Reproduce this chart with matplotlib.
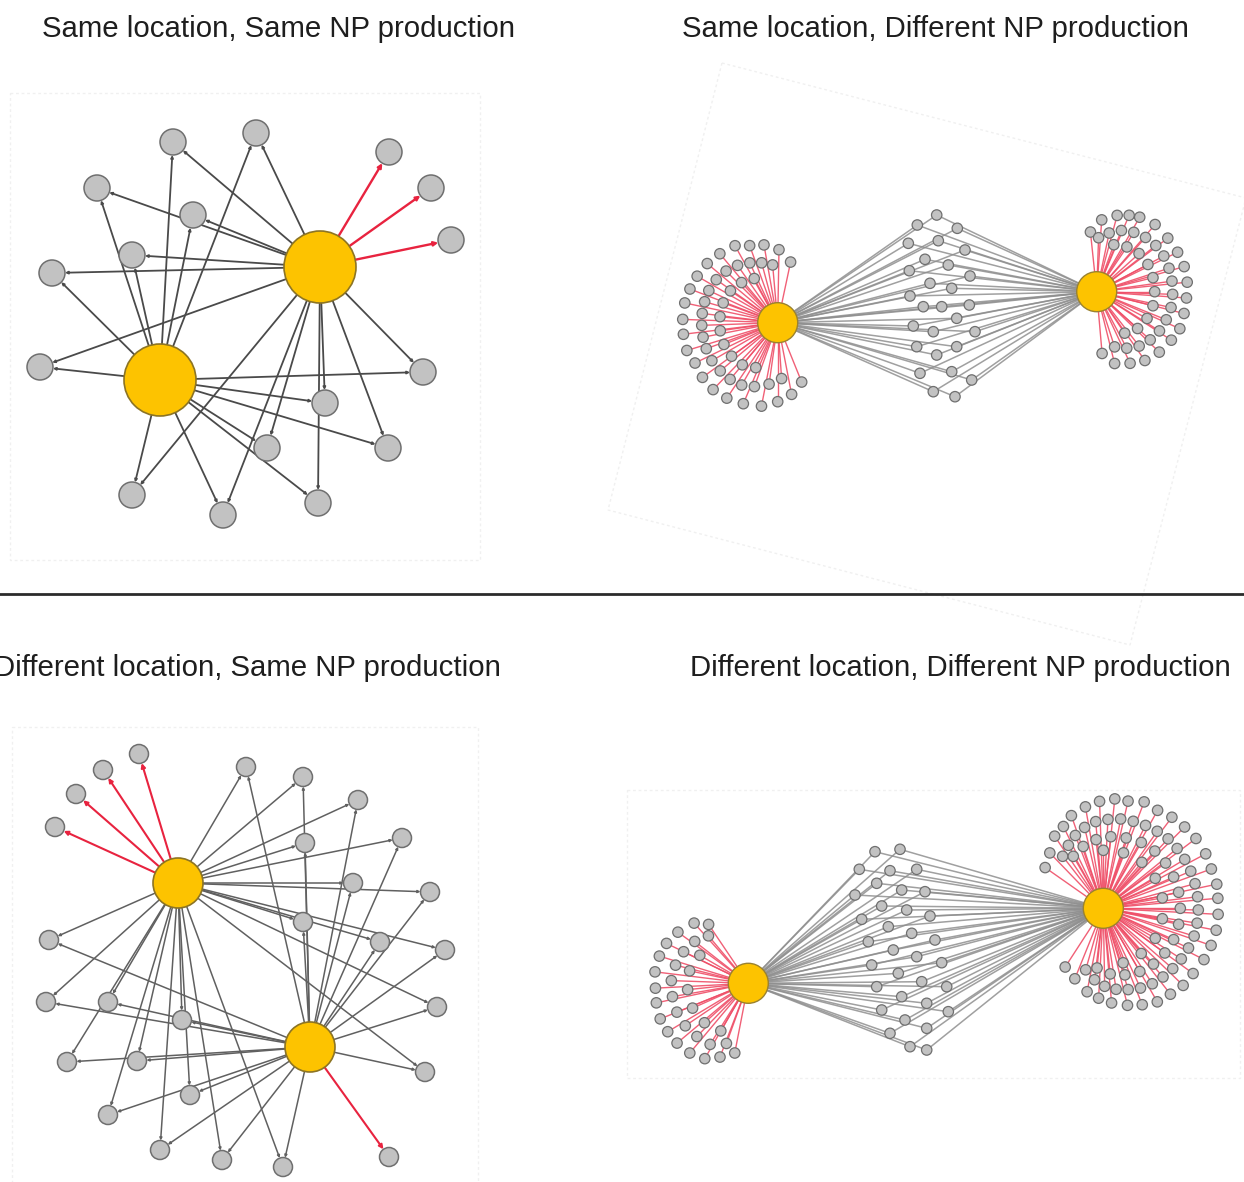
import numpy as np
import matplotlib
matplotlib.use("Agg")
import matplotlib.pyplot as plt
from matplotlib.patches import Circle, Polygon, Rectangle

plt.rcParams['font.family'] = ['Liberation Sans', 'DejaVu Sans']

W, H = 1244, 1182

# ---------------- panel titles ----------------
titles = ["Same location, Same NP production",
          "Same location, Different NP production",
          "Different location, Same NP production",
          "Different location, Different NP production"]
title_x = [279, 935, 247, 960]
title_y = [37, 37, 676, 676]

# ---------------- panel A: same location, same production ----------------
A_hub_x = [320, 160]
A_hub_y = [267, 380]
A_shared_x = [173, 256, 97, 193, 132, 52, 40, 423, 325, 267, 388, 132, 223, 318]
A_shared_y = [142, 133, 188, 215, 255, 273, 367, 372, 403, 448, 448, 495, 515, 503]
A_own_x = [389, 431, 451]          # linked only to the first hub
A_own_y = [152, 188, 240]

# ---------------- panel C: different location, same production ----------------
C_hub_x = [178, 310]
C_hub_y = [883, 1047]
C_own0_x = [139, 103, 76, 55]
C_own0_y = [754, 770, 794, 827]
C_own1_x = [389]
C_own1_y = [1157]
C_shared_x = [246, 303, 358, 402, 305, 353, 430, 303, 380, 445, 49, 46, 108, 182,
              437, 67, 137, 425, 190, 108, 160, 222, 283]
C_shared_y = [767, 777, 800, 838, 843, 883, 892, 922, 942, 950, 940, 1002, 1002, 1020,
              1007, 1062, 1061, 1072, 1095, 1115, 1150, 1160, 1167]

# ---------------- panel B: same location, different production ----------------
B_hub_x = [777.7, 1096.7]
B_hub_y = [322.7, 291.7]
B_shared_x = [936.7, 917.3, 957.3, 908.3, 938.3, 965.0, 925.0, 948.3, 909.3, 970.0,
              930.0, 951.7, 910.0, 923.3, 941.7, 969.3, 913.3, 933.3, 956.7, 975.0,
              916.7, 936.7, 956.7, 920.0, 951.7, 971.7, 933.3, 955.0]
B_shared_y = [215.0, 225.0, 228.3, 243.3, 240.7, 250.0, 259.3, 265.0, 270.7, 276.0,
              283.3, 288.3, 296.0, 306.7, 306.7, 305.0, 326.0, 331.7, 318.3, 331.7,
              346.7, 355.0, 346.7, 373.3, 371.7, 380.0, 391.7, 396.7]
# satellites in polar form around each hub (degrees, pixels)
B_left_ang = [[78, 89, 100, 110, 119, 130, 140, 150, 159, 168, 178, 187, 197, 206, 216,
               226, 236, 247, 259, 270, 281, 292],
              [95, 105, 115, 125, 135, 145, 155, 164, 173, 182, 191, 200, 210, 220, 230,
               240, 250, 262, 274],
              [118, 132, 146, 160, 174, 188, 202, 216, 230, 244]]
B_left_rad = [[62, 73, 79, 82, 88, 90, 92, 93, 94, 95, 95, 95, 95, 92, 93, 93, 91, 88, 85,
               79, 73, 64],
              [58, 62, 66, 70, 73, 75, 76, 76, 76, 76, 76, 76, 76, 75, 74, 72, 68, 62, 56],
              [50, 54, 57, 58, 58, 58, 58, 57, 55, 50]]
B_right_ang = [[96, 86, 75, 67, 60, 49, 37, 26, 16, 6, -4, -14, -24, -33, -44, -55, -65,
                -76, -85],
               [88, 78, 68, 58, 48, 38, 28, 18, 8, -2, -12, -22, -32, -42, -52, -62, -72],
               [70, 56, 42, 28, 14, 0, -14, -28, -42, -56]]
B_right_rad = [[60, 72, 79, 83, 86, 89, 89, 90, 91, 91, 90, 90, 91, 89, 87, 84, 79, 74, 62],
               [54, 60, 66, 70, 73, 75, 76, 76, 76, 76, 76, 75, 74, 72, 69, 64, 58],
               [50, 54, 57, 58, 58, 58, 58, 57, 55, 50]]

# ---------------- panel D: different location, different production ----------------
D_hub_x = [748.3, 1103.3]
D_hub_y = [983.3, 908.3]
D_shared_x = [875.0, 900.0, 859.3, 890.0, 916.7, 876.7, 901.7, 925.0, 855.0, 881.7,
              906.7, 930.0, 861.7, 888.3, 911.7, 935.0, 868.3, 893.3, 916.7, 941.7,
              871.7, 898.3, 921.7, 946.7, 876.7, 901.7, 926.7, 948.3, 881.7, 905.0,
              926.7, 890.0, 910.0, 926.7]
D_shared_y = [851.7, 849.3, 869.3, 870.7, 869.3, 883.3, 890.0, 891.7, 895.0, 906.0,
              910.0, 916.0, 919.3, 926.7, 933.3, 940.0, 941.7, 950.0, 956.7, 962.7,
              965.0, 973.3, 981.7, 986.7, 986.7, 996.7, 1003.3, 1011.7, 1010.0, 1020.0,
              1028.3, 1033.3, 1046.7, 1050.0]
D_left_ang = [[124, 132, 144, 154, 163, 173, 183, 192, 202, 211, 220, 230, 240, 249, 259],
              [130, 142, 154, 166, 178, 190, 202, 214, 226, 238, 250],
              [150, 168, 186, 204, 222, 240]]
D_left_rad = [[71, 81, 87, 91, 93, 94, 93, 94, 95, 94, 93, 91, 87, 79, 71],
              [62, 68, 72, 75, 77, 77, 77, 76, 74, 72, 64],
              [56, 60, 61, 61, 59, 55]]
D_right_ang = [[145, 134, 124, 116, 109, 100, 92, 84, 77, 69, 61, 53, 45, 37, 28, 20, 12, 5,
                -3, -11, -19, -27, -36, -44, -52, -60, -68, -76, -85, -93, -101, -112, -123],
               [128, 119, 111, 103, 95, 87, 79, 71, 63, 55, 47, 39, 31, 23, 15, 7, -1, -9,
                -17, -25, -33, -41, -49, -57, -65, -73, -81, -89, -97, -106],
               [120, 108, 96, 84, 72, 60, 48, 36, 24, 12, 0, -12, -24, -36, -48, -60, -72,
                -84, -96],
               [90, 70, 50, 30, 10, -10, -30, -50, -70]]
D_right_rad = [[71, 77, 87, 91, 98, 103, 107, 110, 110, 114, 112, 114, 115, 116, 116, 115,
                116, 115, 115, 115, 114, 113, 111, 111, 109, 108, 104, 100, 95, 90, 85, 76, 70],
               [66, 72, 78, 83, 87, 89, 91, 92, 93, 94, 95, 95, 95, 95, 95, 95, 95, 95, 95,
                94, 93, 92, 91, 90, 88, 85, 82, 78, 72, 64],
               [60, 65, 69, 72, 74, 76, 77, 77, 77, 77, 77, 77, 77, 76, 75, 73, 70, 66, 60],
               [58, 59, 60, 60, 60, 60, 60, 59, 58]]

# ---------------- styling ----------------
HUB_FACE, HUB_EDGE = '#fdc300', '#8c7424'
NODE_FACE, NODE_EDGE = '#c2c2c2', '#6f6f6f'
RED = '#e8233f'
PINK = '#ef4f68'

fig = plt.figure(figsize=(W / 100, H / 100), dpi=100)
ax = fig.add_axes([0, 0, 1, 1])
ax.set_xlim(0, W)
ax.set_ylim(H, 0)
ax.axis('off')


def circle(x, y, r, face, edge, lw, z):
    ax.add_patch(Circle((x, y), r, facecolor=face, edgecolor=edge, linewidth=lw, zorder=z))


def arrow(x0, y0, x1, y1, r1, color, lw, z, head=7):
    ax.annotate('', xy=(x1, y1), xytext=(x0, y0),
                arrowprops=dict(arrowstyle='-|>', color=color, lw=lw,
                                shrinkA=0, shrinkB=r1 * 0.72,
                                mutation_scale=head),
                zorder=z)


def polar_nodes(hx, hy, angs, rads):
    xs, ys = [], []
    for ring_a, ring_r in zip(angs, rads):
        a = np.radians(np.asarray(ring_a, float))
        r = np.asarray(ring_r, float)
        xs.extend(hx + r * np.cos(a))
        ys.extend(hy - r * np.sin(a))
    return np.array(xs), np.array(ys)


# faint panel frames
frame_kw = dict(fill=False, edgecolor='#f0f0f0', linewidth=1.0, linestyle=(0, (2, 2)), zorder=0)
ax.add_patch(Rectangle((10, 93), 470, 467, **frame_kw))
ax.add_patch(Rectangle((12, 727), 466, 460, **frame_kw))
ax.add_patch(Rectangle((627, 790), 613, 288, **frame_kw))
ax.add_patch(Polygon([(722, 63), (1246, 198), (1130, 645), (608, 510)], closed=True, **frame_kw))

# divider between the two rows
ax.plot([0, W], [594, 594], color='#2b2b2b', lw=2.0, zorder=1)

# titles
for t, x, y in zip(titles, title_x, title_y):
    ax.text(x, y, t, ha='center', va='baseline', fontsize=21.2, color='#1e1e1e', zorder=5)


# sparse panels (A and C)
def sparse_panel(hx, hy, hub_r, sx, sy, own, node_r, edge_c, edge_lw):
    for i in range(len(hx)):
        for x, y in zip(sx, sy):
            arrow(hx[i], hy[i], x, y, node_r, edge_c, edge_lw, 2, 3.5)
    for i, (ox, oy) in own:
        for x, y in zip(ox, oy):
            arrow(hx[i], hy[i], x, y, node_r, RED, edge_lw + 0.4, 2.5, 6)
    for x, y in zip(list(sx) + [v for _, (ox, _) in own for v in ox],
                    list(sy) + [v for _, (_, oy) in own for v in oy]):
        circle(x, y, node_r, NODE_FACE, NODE_EDGE, 1.1, 3)
    for x, y in zip(hx, hy):
        circle(x, y, hub_r, HUB_FACE, HUB_EDGE, 1.2, 4)


sparse_panel(A_hub_x, A_hub_y, 36, A_shared_x, A_shared_y,
             [(0, (A_own_x, A_own_y))], 13, '#4a4a4a', 1.3)
sparse_panel(C_hub_x, C_hub_y, 25, C_shared_x, C_shared_y,
             [(0, (C_own0_x, C_own0_y)), (1, (C_own1_x, C_own1_y))], 9.5, '#606060', 1.1)


# dense panels (B and D)
def dense_panel(hx, hy, sx, sy, left, right):
    for i in range(2):
        for x, y in zip(sx, sy):
            ax.plot([hx[i], x], [hy[i], y], color='#8f8f8f', lw=1.1, alpha=0.85,
                    solid_capstyle='round', zorder=2)
    sat = [polar_nodes(hx[0], hy[0], *left), polar_nodes(hx[1], hy[1], *right)]
    for i, (px, py) in enumerate(sat):
        for x, y in zip(px, py):
            ax.plot([hx[i], x], [hy[i], y], color=PINK, lw=1.0, alpha=0.9, zorder=2.5)
    for px, py in sat + [(np.asarray(sx), np.asarray(sy))]:
        for x, y in zip(px, py):
            circle(x, y, 5.2, NODE_FACE, NODE_EDGE, 0.9, 3)
    for x, y in zip(hx, hy):
        circle(x, y, 20, HUB_FACE, '#9a8230', 1.0, 4)


dense_panel(B_hub_x, B_hub_y, B_shared_x, B_shared_y,
            (B_left_ang, B_left_rad), (B_right_ang, B_right_rad))
dense_panel(D_hub_x, D_hub_y, D_shared_x, D_shared_y,
            (D_left_ang, D_left_rad), (D_right_ang, D_right_rad))

fig.savefig('out.png', dpi=100, facecolor='white')
